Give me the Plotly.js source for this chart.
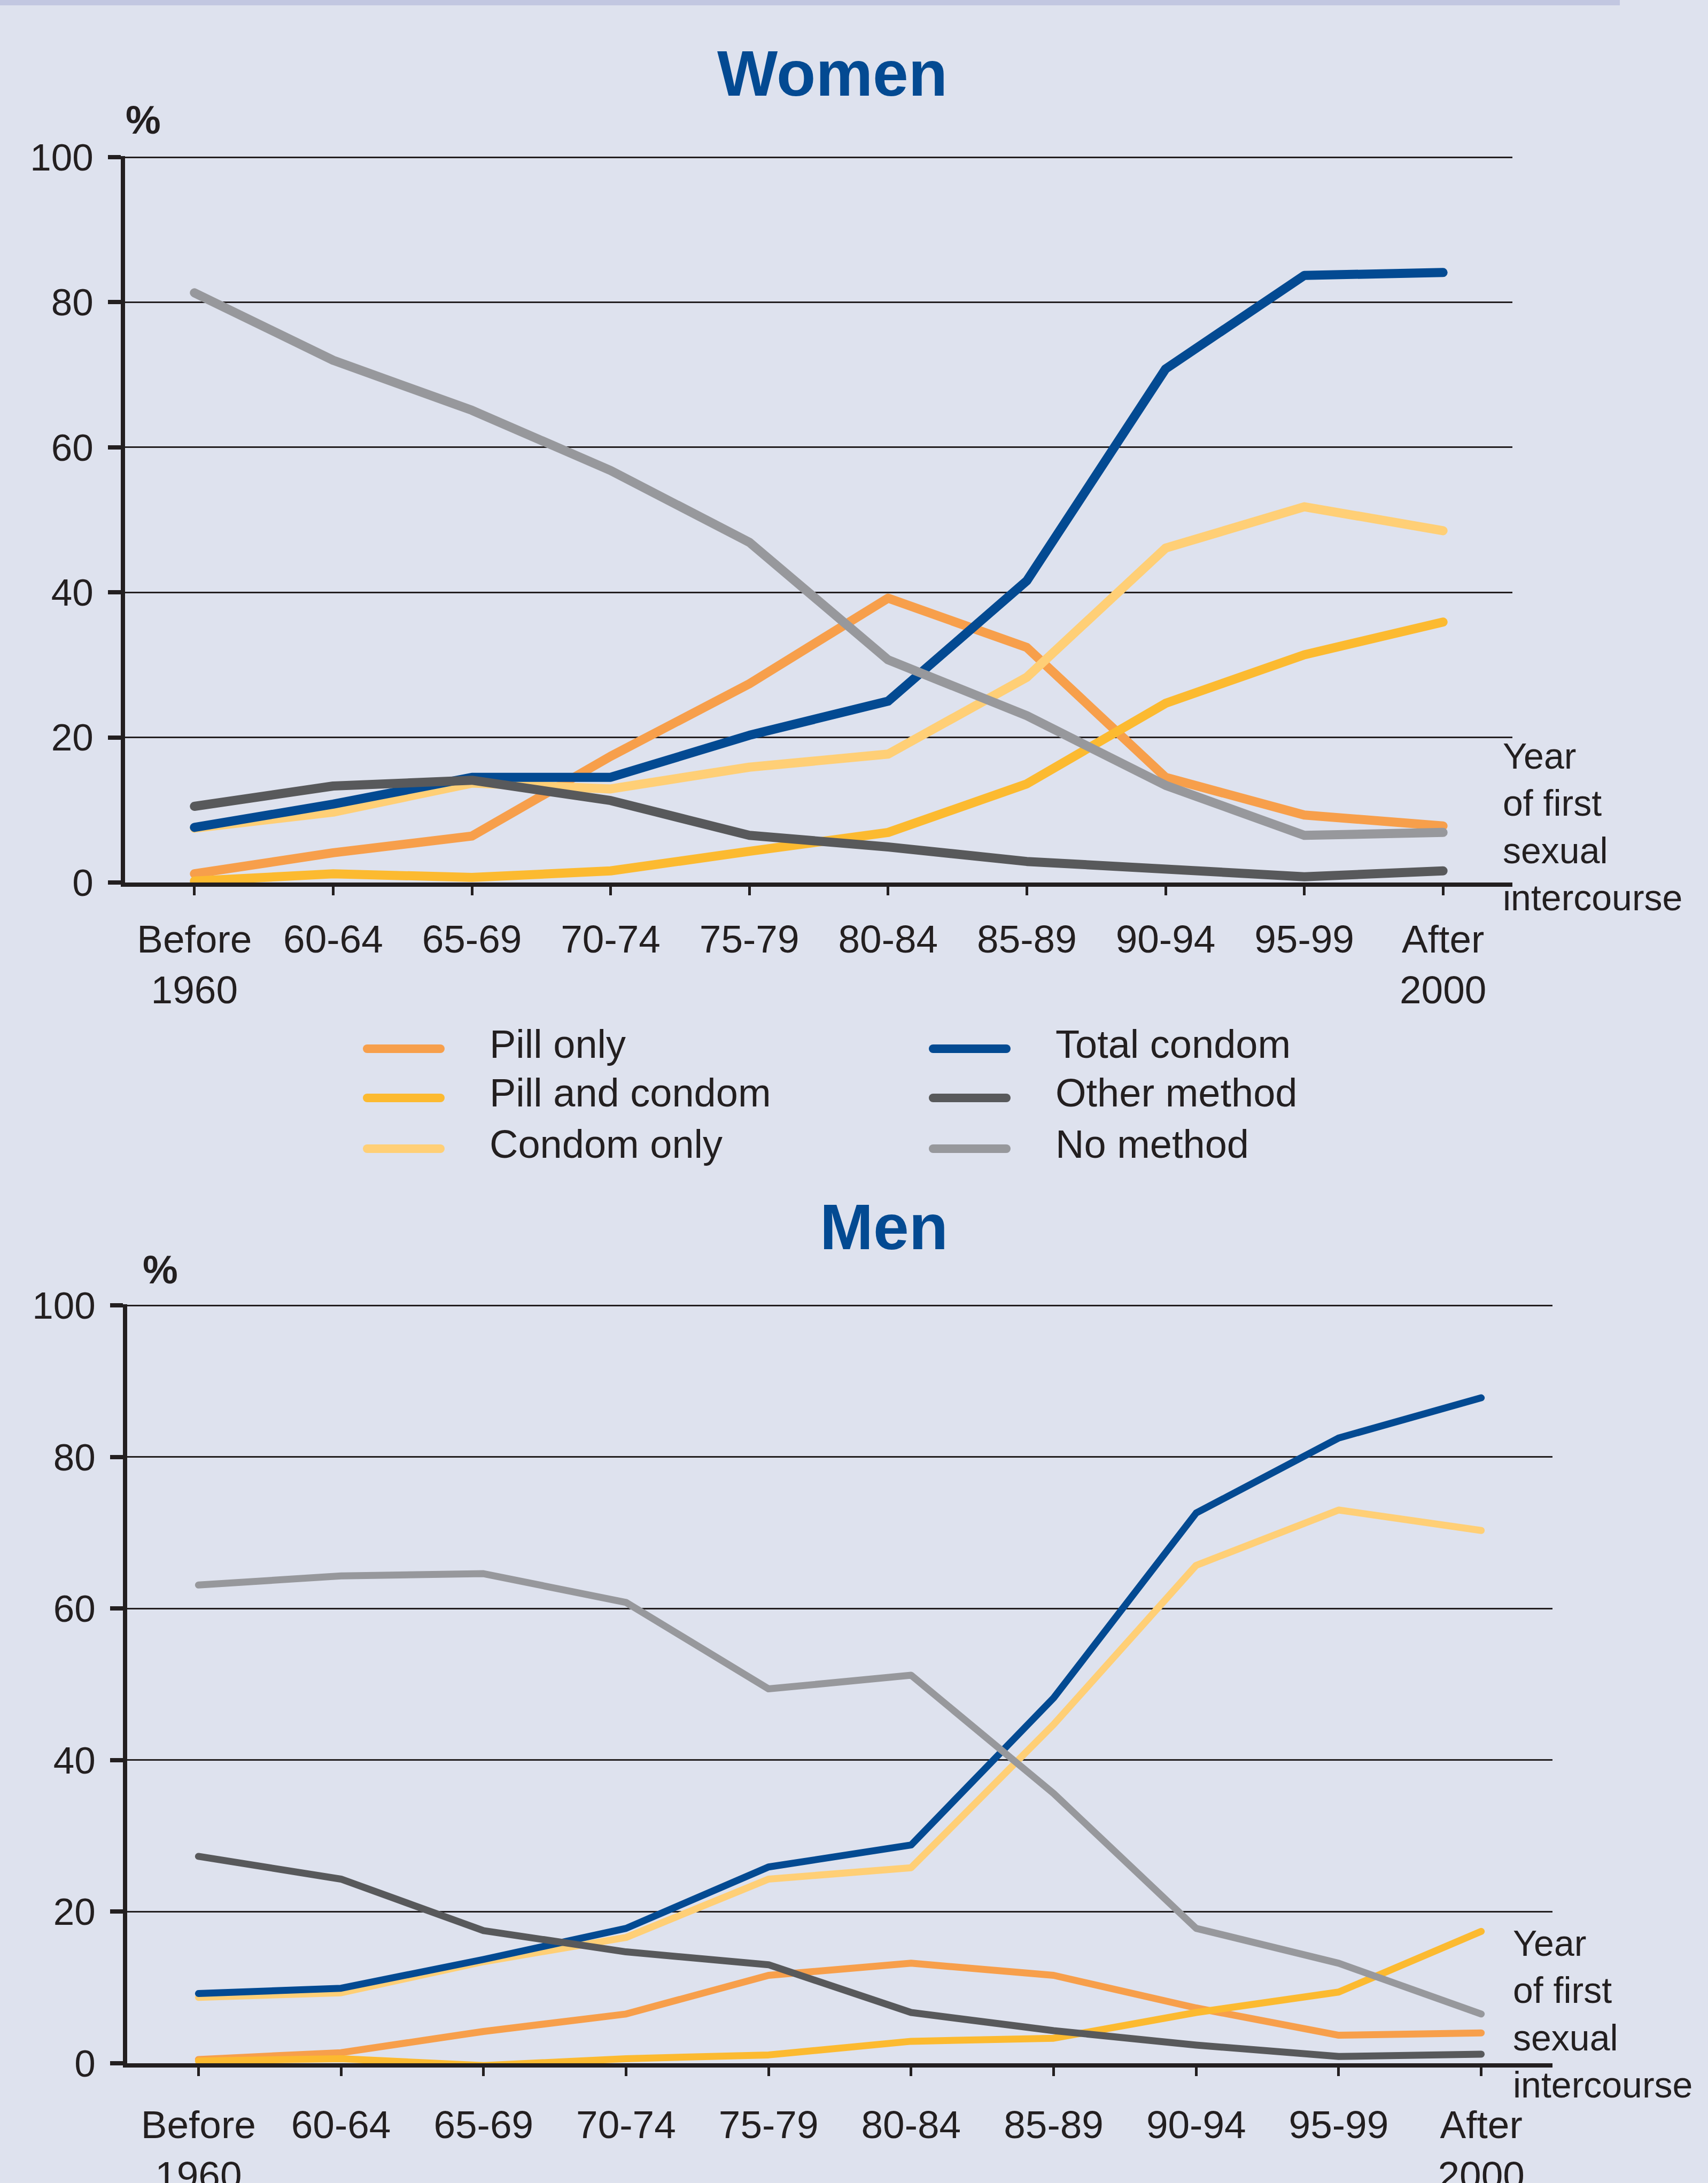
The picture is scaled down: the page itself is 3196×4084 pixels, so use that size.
<!DOCTYPE html>
<html>
<head>
<meta charset="utf-8">
<script src="https://cdn.plot.ly/plotly-3.0.1.min.js"></script>
<style>
html, body { margin: 0; padding: 0; background: #dee2ee; }
#chart { width: 3196px; height: 4084px; }
.scatterlayer .js-line { stroke-linecap: round; stroke-linejoin: round; }
.shapelayer path { stroke-linecap: round; }
</style>
</head>
<body>
<div id="chart"></div>
<script>
// ---- data ----
const categories = ['Before 1960', '60-64', '65-69', '70-74', '75-79', '80-84', '85-89', '90-94', '95-99', 'After 2000'];
const tickLabels = ['Before<br>1960', '60-64', '65-69', '70-74', '75-79', '80-84', '85-89', '90-94', '95-99', 'After<br>2000'];
const yTicks = [0, 20, 40, 60, 80, 100];
const seriesNames = ['Pill only', 'Pill and condom', 'Condom only', 'Total condom', 'Other method', 'No method'];

// Women (%)
const pillOnlyW    = [1.2, 4.1, 6.4, 17.4, 27.4, 39.2, 32.4, 14.5, 9.3, 7.8];
const pillCondomW  = [0.2, 1.2, 0.7, 1.6, 4.3, 6.9, 13.6, 24.7, 31.4, 35.9];
const condomOnlyW  = [7.5, 9.7, 13.7, 12.9, 15.9, 17.7, 28.3, 46.1, 51.8, 48.5];
const totalCondomW = [7.6, 10.8, 14.5, 14.5, 20.3, 25.0, 41.6, 70.8, 83.7, 84.1];
const otherW       = [10.5, 13.3, 14.1, 11.3, 6.5, 4.9, 2.9, 1.7, 0.8, 1.6];
const noneW        = [81.3, 72.0, 65.1, 56.8, 46.9, 30.7, 23.0, 13.4, 6.5, 6.9];

// Men (%)
const pillOnlyM    = [0.5, 1.4, 4.2, 6.5, 11.6, 13.2, 11.6, 7.3, 3.7, 4.0];
const pillCondomM  = [0.3, 0.6, -0.3, 0.6, 1.1, 2.9, 3.3, 6.7, 9.4, 17.4];
const condomOnlyM  = [8.7, 9.3, 13.4, 16.6, 24.3, 25.8, 44.7, 65.7, 73.0, 70.3];
const totalCondomM = [9.2, 9.9, 13.7, 17.8, 25.9, 28.8, 48.2, 72.6, 82.5, 87.8];
const otherM       = [27.3, 24.3, 17.5, 14.7, 13.0, 6.7, 4.3, 2.4, 0.9, 1.2];
const noneM        = [63.1, 64.3, 64.6, 60.8, 49.4, 51.2, 35.6, 17.8, 13.2, 6.5];

// ---- styles ----
const seriesColors = ['#f79f4b', '#fcba30', '#ffcf76', '#034a92', '#58595b', '#97989c'];
const FONT = 'Liberation Sans, Arial, Helvetica, sans-serif';
const INK = '#231f20';
const BG = '#dee2ee';
const TITLE_BLUE = '#034a92';
const W = 3196, H = 4084;
const px = v => v / W;
const py = v => 1 - v / H;

const womenSeries = [pillOnlyW, pillCondomW, condomOnlyW, totalCondomW, otherW, noneW];
const menSeries = [pillOnlyM, pillCondomM, condomOnlyM, totalCondomM, otherM, noneM];

const traces = [];
womenSeries.forEach((ys, k) => {
  traces.push({
    type: 'scatter', mode: 'lines', x: categories, y: ys, name: seriesNames[k],
    xaxis: 'x', yaxis: 'y', cliponaxis: false,
    line: { color: seriesColors[k], width: 17 },
    showlegend: false, hoverinfo: 'skip'
  });
});
menSeries.forEach((ys, k) => {
  traces.push({
    type: 'scatter', mode: 'lines', x: categories, y: ys, name: seriesNames[k],
    xaxis: 'x2', yaxis: 'y2', cliponaxis: false,
    line: { color: seriesColors[k], width: 13 },
    showlegend: false, hoverinfo: 'skip'
  });
});

function xAxis(domain, anchor, standoff) {
  return {
    domain: domain, anchor: anchor, type: 'category', range: [-0.5, 9.5],
    tickmode: 'array', tickvals: categories, ticktext: tickLabels,
    showline: true, linewidth: 8, linecolor: INK,
    ticks: 'outside', ticklen: 16, tickwidth: 5, tickcolor: INK,
    ticklabelstandoff: standoff,
    showgrid: false, zeroline: false, fixedrange: true,
    tickfont: { family: FONT, size: 73, color: INK }
  };
}
function yAxis(domain, anchor) {
  return {
    domain: domain, anchor: anchor, range: [0, 100.15],
    tickmode: 'array', tickvals: yTicks,
    showline: true, linewidth: 8, linecolor: INK,
    ticks: 'outside', ticklen: 24, tickwidth: 8, tickcolor: INK,
    ticklabelstandoff: 13,
    showgrid: true, gridcolor: INK, gridwidth: 3,
    zeroline: false, fixedrange: true,
    tickfont: { family: FONT, size: 71, color: INK }
  };
}

const noteText = 'Year<br>of first<br>sexual<br>intercourse';

// ---- legend (two columns of three, drawn between the panels) ----
const legendColX = [[679, 832, 916], [1738, 1891, 1975]];   // swatch start, swatch end, text start
const legendRowY = [1953, 2045, 2140];                       // text cap centre
const legendShapes = [];
const legendTexts = [];
seriesNames.forEach((name, k) => {
  const col = legendColX[Math.floor(k / 3)];
  const rowY = legendRowY[k % 3];
  legendShapes.push({
    type: 'line', xref: 'paper', yref: 'paper',
    x0: px(col[0] + 8), x1: px(col[1] - 8), y0: py(rowY + 9), y1: py(rowY + 9),
    line: { color: seriesColors[k], width: 16 }
  });
  legendTexts.push({
    text: name, xref: 'paper', yref: 'paper', x: px(col[2] - 2), y: py(rowY),
    xanchor: 'left', yanchor: 'middle', align: 'left', showarrow: false,
    font: { family: FONT, size: 74, color: INK }
  });
});

const layout = {
  width: W, height: H, autosize: false,
  margin: { l: 0, r: 0, t: 0, b: 0, pad: 0 },
  paper_bgcolor: BG, plot_bgcolor: BG,
  font: { family: FONT, color: INK },
  showlegend: false,
  xaxis: xAxis([px(234), px(2830)], 'y', 19),
  yaxis: yAxis([py(1651), py(292)], 'x'),
  xaxis2: xAxis([px(238), px(2905)], 'y2', 28),
  yaxis2: yAxis([py(3860), py(2440)], 'x2'),
  shapes: [
    { type: 'rect', xref: 'paper', yref: 'paper', x0: 0, x1: px(3031), y0: py(10), y1: 1,
      fillcolor: '#c2c7e1', line: { width: 0 }, layer: 'below' }
  ].concat(legendShapes),
  annotations: [
    { text: '<b>Women</b>', xref: 'paper', yref: 'paper', x: px(1557), y: py(137),
      xanchor: 'center', yanchor: 'middle', showarrow: false,
      font: { family: FONT, size: 120, color: TITLE_BLUE } },
    { text: '<b>Men</b>', xref: 'paper', yref: 'paper', x: px(1654), y: py(2295),
      xanchor: 'center', yanchor: 'middle', showarrow: false,
      font: { family: FONT, size: 120, color: TITLE_BLUE } },
    { text: '<b>%</b>', xref: 'paper', yref: 'paper', x: px(233), y: py(224),
      xanchor: 'left', yanchor: 'middle', showarrow: false,
      font: { family: FONT, size: 74, color: INK } },
    { text: '<b>%</b>', xref: 'paper', yref: 'paper', x: px(265), y: py(2375),
      xanchor: 'left', yanchor: 'middle', showarrow: false,
      font: { family: FONT, size: 74, color: INK } },
    { text: noteText, xref: 'paper', yref: 'paper', x: px(2810), y: py(1546),
      xanchor: 'left', yanchor: 'middle', align: 'left', showarrow: false,
      font: { family: FONT, size: 68, color: INK } },
    { text: noteText, xref: 'paper', yref: 'paper', x: px(2829), y: py(3767),
      xanchor: 'left', yanchor: 'middle', align: 'left', showarrow: false,
      font: { family: FONT, size: 68, color: INK } }
  ].concat(legendTexts)
};

Plotly.newPlot('chart', traces, layout, { displayModeBar: false, staticPlot: true });
</script>
</body>
</html>
